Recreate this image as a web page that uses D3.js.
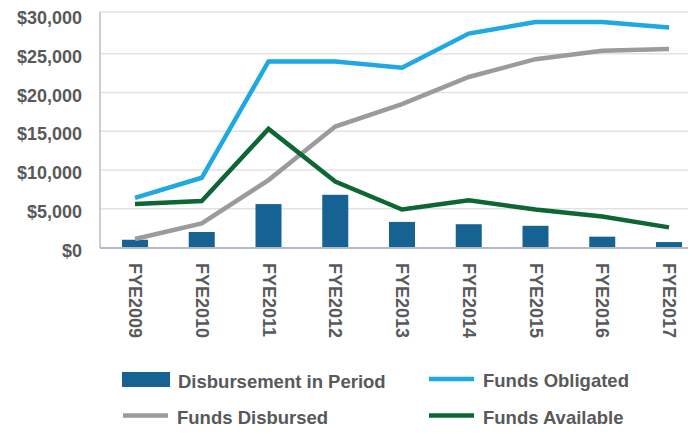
<!DOCTYPE html>
<html>
<head>
<meta charset="utf-8">
<script src="https://cdn.jsdelivr.net/npm/d3@7"></script>
<style>
  body { margin: 0; background: #fff; }
  text { font-family: "Liberation Sans", Arial, sans-serif; font-weight: bold; fill: #58595b; }
</style>
</head>
<body>
<div id="chart"></div>
<script>
// chart data
const years = ["FYE2009", "FYE2010", "FYE2011", "FYE2012", "FYE2013", "FYE2014", "FYE2015", "FYE2016", "FYE2017"];
const disbursementInPeriod = [1000, 2000, 5600, 6800, 3300, 3000, 2800, 1400, 700];
const fundsObligated = [6400, 9000, 24000, 24000, 23200, 27600, 29100, 29100, 28400];
const fundsDisbursed = [1100, 3100, 8700, 15600, 18500, 22000, 24300, 25400, 25600];
const fundsAvailable = [5600, 6000, 15300, 8500, 4900, 6100, 4900, 4000, 2600];
const yTicks = [0, 5000, 10000, 15000, 20000, 25000, 30000];

const W = 694, H = 434;
const plot = { left: 100, right: 688, top: 12, bottom: 248 };

const svg = d3.select("#chart").append("svg")
    .attr("width", W)
    .attr("height", H);

const x = d3.scalePoint()
    .domain(years)
    .range([135, 669]);

const y = d3.scaleLinear()
    .domain([0, 30000])
    .range([247.5, 15]);

const barW = 26;
const fmt = d3.format("$,");

// gridlines
svg.append("g")
    .selectAll("line")
    .data(yTicks.filter(d => d > 0))
    .enter()
    .append("line")
    .attr("x1", plot.left)
    .attr("x2", plot.right)
    .attr("y1", d => d === 30000 ? plot.top : y(d))
    .attr("y2", d => d === 30000 ? plot.top : y(d))
    .attr("stroke", "#e2e2e2")
    .attr("stroke-width", 1.5);

// y labels
svg.append("g")
    .selectAll("text")
    .data(yTicks)
    .enter()
    .append("text")
    .attr("x", 82)
    .attr("y", d => y(d) + 3)
    .attr("text-anchor", "end")
    .attr("dominant-baseline", "central")
    .style("font-size", "18px")
    .text(d => fmt(d));

// bars
svg.append("g")
    .selectAll("rect")
    .data(disbursementInPeriod)
    .enter()
    .append("rect")
    .attr("x", (d, i) => x(years[i]) - barW / 2)
    .attr("y", d => y(d))
    .attr("width", barW)
    .attr("height", d => y(0) - y(d))
    .attr("fill", "#156293");

// axis lines
svg.append("line")
    .attr("x1", plot.left).attr("x2", plot.left)
    .attr("y1", plot.top).attr("y2", plot.bottom)
    .attr("stroke", "#b9bdc7").attr("stroke-width", 1.5);
svg.append("line")
    .attr("x1", plot.left).attr("x2", plot.right)
    .attr("y1", plot.bottom).attr("y2", plot.bottom)
    .attr("stroke", "#b3b8c3").attr("stroke-width", 2);

// lines
const line = d3.line()
    .x((d, i) => x(years[i]))
    .y(d => y(d));

const series = [
    { name: "Funds Disbursed", values: fundsDisbursed, color: "#9b9b9e" },
    { name: "Funds Available", values: fundsAvailable, color: "#0e6634" },
    { name: "Funds Obligated", values: fundsObligated, color: "#1fa8e1" }
];

svg.append("g")
    .selectAll("path")
    .data(series)
    .enter()
    .append("path")
    .attr("d", d => line(d.values))
    .attr("fill", "none")
    .attr("stroke", d => d.color)
    .attr("stroke-width", 4.5)
    .attr("stroke-linejoin", "miter");

// x labels, rotated
svg.append("g")
    .selectAll("text")
    .data(years)
    .enter()
    .append("text")
    .attr("transform", d => `translate(${x(d)},263) rotate(90)`)
    .attr("dominant-baseline", "central")
    .style("font-size", "18px")
    .text(d => d);

// legend
const legend = svg.append("g").style("font-size", "18.5px");

legend.append("rect")
    .attr("x", 122).attr("y", 372)
    .attr("width", 48).attr("height", 15)
    .attr("fill", "#156293");
legend.append("text")
    .attr("x", 178).attr("y", 381)
    .attr("dominant-baseline", "central")
    .text("Disbursement in Period");

const legendLines = [
    { name: "Funds Obligated", color: "#1fa8e1", x: 429, y: 379 },
    { name: "Funds Disbursed", color: "#9b9b9e", x: 123, y: 415.5 },
    { name: "Funds Available", color: "#0e6634", x: 429, y: 415.5 }
];

legendLines.forEach(l => {
    legend.append("line")
        .attr("x1", l.x).attr("x2", l.x + 45)
        .attr("y1", l.y).attr("y2", l.y)
        .attr("stroke", l.color)
        .attr("stroke-width", 4.5);
    legend.append("text")
        .attr("x", l.x + 54).attr("y", l.y + 1.5)
        .attr("dominant-baseline", "central")
        .text(l.name);
});
</script>
</body>
</html>
